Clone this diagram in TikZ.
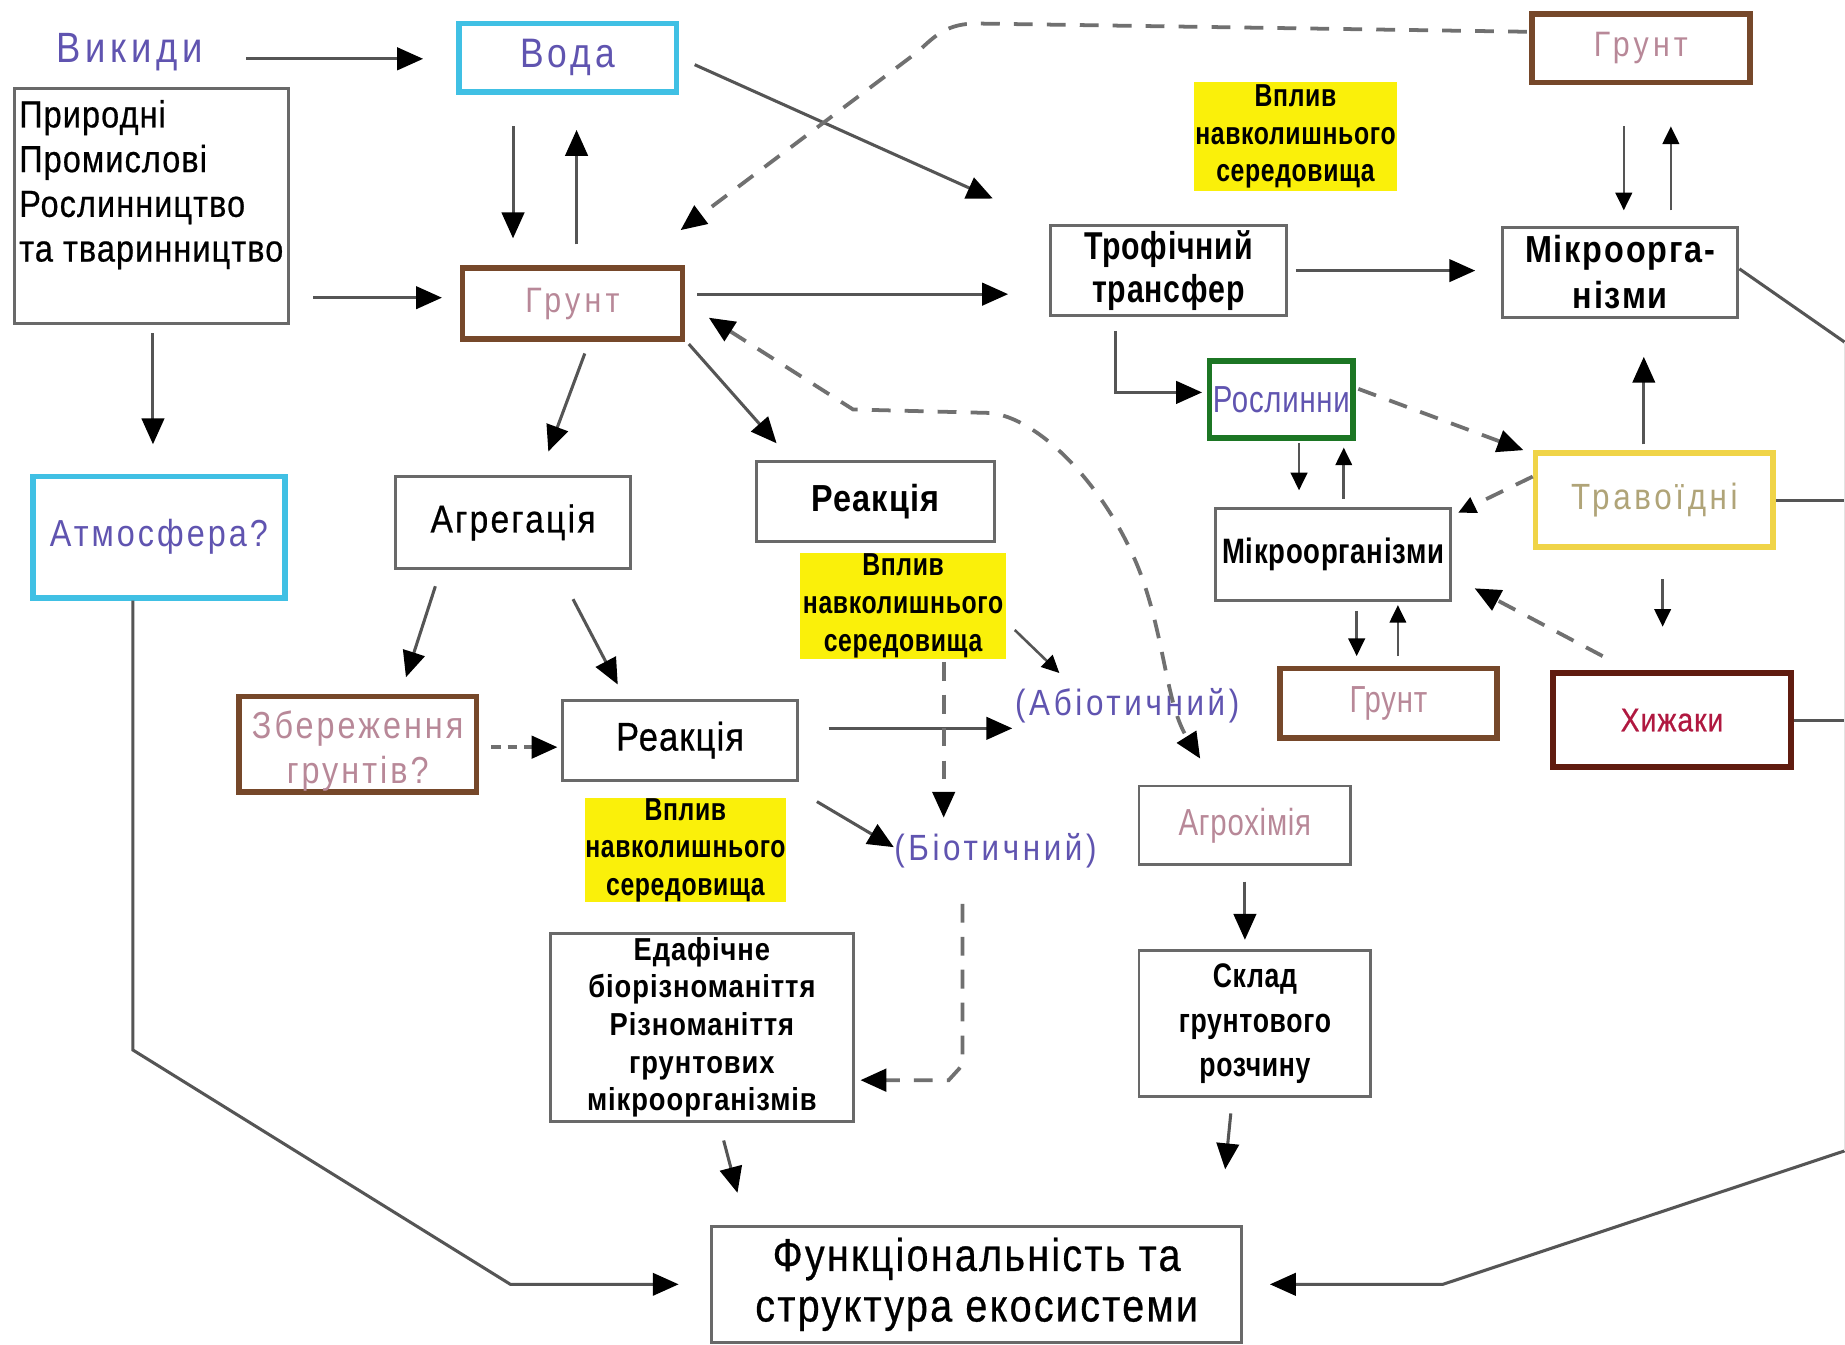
\documentclass[tikz,border=0pt]{standalone}
\usepackage{fontspec}
\setmainfont[FakeStretch=0.86,LetterSpace=3]{Liberation Sans}
\newfontfamily\condf[FakeStretch=0.78,LetterSpace=2]{Liberation Sans}
\usetikzlibrary{arrows.meta,calc}
\newcommand\setfz[3]{\fontsize{#1}{#2}\selectfont\addfontfeature{LetterSpace=#3}}
\newcommand\heavier{\addfontfeature{FakeBold=0.6}}
\definecolor{txtpurple}{RGB}{96,84,176}
\definecolor{txtmauve}{RGB}{184,136,152}
\definecolor{txtkhaki}{RGB}{176,164,120}
\definecolor{txtred}{RGB}{176,24,64}
\definecolor{bcyan}{RGB}{64,192,228}
\definecolor{bbrown}{RGB}{118,72,42}
\definecolor{bgreen}{RGB}{28,118,36}
\definecolor{byellow}{RGB}{240,212,72}
\definecolor{bdred}{RGB}{96,28,16}
\definecolor{hiyel}{RGB}{250,240,10}
\definecolor{boxgray}{RGB}{105,105,105}
\definecolor{lngray}{RGB}{85,85,85}
\definecolor{dshgray}{RGB}{112,112,112}
\tikzset{
 gbox/.style={draw=boxgray, line width=1.25pt, fill=white, inner sep=0pt, align=center},
 tbox/.style={line width=2.4pt, fill=white, inner sep=0pt, align=center},
 hl/.style={fill=hiyel, inner sep=0pt, align=center},
 lbl/.style={inner sep=0pt, align=center},
 arr/.style={draw=lngray, line width=1.3pt, -{Triangle[length=11pt,width=9.5pt,black]}},
 arrs/.style={draw=lngray, line width=1.1pt, -{Triangle[length=7.5pt,width=7pt,black]}},
 dblarr/.style={draw=lngray, line width=1.3pt, {Triangle[length=11pt,width=9.5pt,black]}-{Triangle[length=11pt,width=9.5pt,black]}},
 dsh/.style={draw=dshgray, line width=1.6pt, dash pattern=on 8pt off 6pt},
 plainln/.style={draw=lngray, line width=1.3pt},
}
\begin{document}
\begin{tikzpicture}[x=0.5pt,y=-0.5pt]
\fill[white] (0,0) rectangle (1568,1143);
\useasboundingbox (0,0) rectangle (1568,1143);

% ---------- nodes ----------
\node[lbl, text=txtpurple, font=\setfz{18}{20}{11}] (vyk) at (110,44) {Викиди};
\node[tbox, draw=bcyan, minimum width=92.5pt, minimum height=29pt, text=txtpurple, font=\setfz{17.5}{20}{10}] (voda) at (482.5,49) {Вода};
\node[gbox, minimum width=116.5pt, minimum height=100pt] (prir) at (128.5,175) {};
\node[lbl, anchor=west, align=left, font=\setfz{16}{19}{3}\heavier] (prirtxt) at (16,157) {Природні\\Промислові\\Рослинництво\\та тваринництво};
\node[tbox, draw=bbrown, minimum width=93.5pt, minimum height=30pt, text=txtmauve, font=\setfz{15}{18}{12}] (grunt) at (486.5,258) {Грунт};
\node[tbox, draw=bcyan, minimum width=107pt, minimum height=51.5pt, text=txtpurple, font=\setfz{16}{19}{8}] (atm) at (135,456.5) {Атмосфера?};
\node[gbox, minimum width=100pt, minimum height=39pt, font=\setfz{16.5}{19}{6}\heavier] (agr) at (436,444) {Агрегація};
\node[gbox, minimum width=101pt, minimum height=34pt, font=\bfseries\setfz{16}{19}{3}] (reak1) at (744,426) {Реакція};
\node[tbox, draw=bbrown, minimum width=92.5pt, minimum height=29pt, text=txtmauve, font=\setfz{15}{18}{12}] (gruntTR) at (1394.5,41) {Грунт};
\node[hl, minimum width=86pt, minimum height=46pt, font=\condf\bfseries\setfz{13.5}{16}{2}] (vpltop) at (1101,116) {Вплив\\навколишнього\\середовища};
\node[gbox, minimum width=100pt, minimum height=38pt, font=\condf\bfseries\setfz{16.5}{18.5}{2}] (trof) at (993,230) {Трофічний\\трансфер};
\node[gbox, minimum width=100pt, minimum height=38.5pt, font=\bfseries\setfz{16}{19.5}{5}] (mikTR) at (1377,231.5) {Мікроорга-\\нізми};
\node[tbox, draw=bgreen, minimum width=61pt, minimum height=32.5pt, text=txtpurple, font=\condf\setfz{16}{19}{2}] (rosl) at (1089,339.5) {Рослинни};
\node[gbox, minimum width=100pt, minimum height=39pt, font=\condf\bfseries\setfz{15}{18}{2}] (mikM) at (1133,471) {Мікроорганізми};
\node[tbox, draw=byellow, minimum width=101pt, minimum height=40pt, text=txtkhaki, font=\setfz{15.5}{18}{10}] (trav) at (1406,425) {Травоїдні};
\node[tbox, draw=bdred, minimum width=101pt, minimum height=40pt, text=txtred, font=\setfz{14}{17}{3}\heavier] (khyz) at (1421,612) {Хижаки};
\node[tbox, draw=bbrown, minimum width=92pt, minimum height=29.5pt, text=txtmauve, font=\condf\setfz{16}{19}{2}] (gruntL) at (1180,597.5) {Грунт};
\node[tbox, draw=bbrown, minimum width=101pt, minimum height=40.5pt, text=txtmauve, font=\setfz{16}{19}{8}] (zber) at (304,632.5) {\rule{0pt}{17.5pt}Збереження\\грунтів?};
\node[gbox, minimum width=100pt, minimum height=34pt, font=\setfz{17}{20}{3}\heavier] (reak2) at (578,629) {Реакція};
\node[hl, minimum width=87.5pt, minimum height=45pt, font=\condf\bfseries\setfz{13.5}{16}{2}] (vplM) at (767.5,515) {Вплив\\навколишнього\\середовища};
\node[hl, minimum width=85.5pt, minimum height=44.5pt, font=\condf\bfseries\setfz{13.5}{16}{2}] (vplL) at (582.5,722.5) {Вплив\\навколишнього\\середовища};
\node[lbl, text=txtpurple, font=\setfz{15.5}{18}{10}] (abio) at (958,600) {(Абіотичний)};
\node[lbl, text=txtpurple, font=\setfz{15.5}{18}{10}] (bio) at (846,723) {(Біотичний)};
\node[gbox, minimum width=128.5pt, minimum height=80pt, font=\bfseries\setfz{13.5}{16}{3}] (edaf) at (596.5,873) {Едафічне\\біорізноманіття\\Різноманіття\\грунтових\\мікроорганізмів};
\node[gbox, minimum width=90pt, minimum height=33.5pt, text=txtmauve, font=\condf\setfz{16}{19}{2}] (agroch) at (1058,701.5) {Агрохімія};
\node[gbox, minimum width=98.5pt, minimum height=62pt, font=\condf\bfseries\setfz{14.5}{19}{2}] (sklad) at (1066.5,870) {Склад\\грунтового\\розчину};
\node[gbox, minimum width=225pt, minimum height=49.5pt, font=\setfz{19.5}{21.5}{5}\heavier] (func) at (830,1091.5) {Функціональність та\\структура екосистеми};

\coordinate (re1) at (1568,291);
\coordinate (re2) at (1568,425);
\coordinate (re3) at (1568,612);
\coordinate (rb) at (1568,978);

% ---------- connectors ----------
\draw[arr] ($(vyk.east)+(37,6)$) -- ($(voda.west)+(-28,1)$);
\draw[arr] ($(prir.east)+(20,78)$) -- ($(grunt.west)+(-15,-5)$);
\draw[arr] ($(voda.south)+(-46.5,27)$) -- ($(grunt.north)+(-50.5,-23)$);
\draw[arr] ($(grunt.north)+(3.5,-18)$) -- ($(voda.south)+(7.5,30)$);
\draw[arr] ($(prir.south)+(1.5,7)$) -- ($(atm.north)+(-5,-25)$);
\draw[arr] ($(atm.south)+(-22,0)$) -- ($(atm.south)+(-22,382)$) -- ($(func.west)+(-170,0)$) -- ($(func.west)+(-27,0)$);
\draw[arr] (rb) -- ($(func.east)+(170,0)$) -- ($(func.east)+(23,0)$);
\draw[arr] ($(grunt.south)+(10.5,10)$) -- ($(agr.north)+(30,-20)$);
\draw[arr] ($(grunt.south east)+(3,2)$) -- ($(reak1.north)+(-84,-14)$);
\draw[arr] ($(grunt.east)+(10,-8)$) -- ($(trof.west)+(-35,20)$);
\draw[arr] ($(voda.east)+(13,6)$) -- ($(trof.north west)+(-48,-22)$);
\draw[arr,dsh] ($(gruntTR.west)+(-2,-14)$) -- (830,20) .. controls (805,20) and (795,30) .. (780,44) -- ($(grunt.north east)+(-4,-30)$);
\draw[dblarr,dsh] ($(grunt.east)+(20,12)$) -- (725,348) -- (843,351) .. controls (890,358) and (948,425) .. (972,495) .. controls (990,548) and (992,600) .. ($(agroch.north)+(-38,-22)$);
\draw[arr] ($(trof.south)+(-45,12)$) |- ($(rosl.west)+(-4,-6)$);
\draw[plainln] ($(mikTR.east)+(0,-3)$) -- (re1);
\draw[arr] ($(trof.east)+(7,0)$) -- ($(mikTR.west)+(-22,-1.5)$);
\draw[arrs] ($(gruntTR.south)+(-14.5,35)$) -- ($(mikTR.north)+(3,-13)$);
\draw[arrs] ($(mikTR.north)+(43,-13)$) -- ($(gruntTR.south)+(25.5,35)$);
\draw[arr] ($(trav.north)+(-9,-5)$) -- ($(mikTR.south)+(20,32)$);
\draw[arr,dsh] ($(rosl.east)+(2,-9)$) -- ($(trav.north west)+(-8,0)$);
\draw[arrs] ($(rosl.south)+(15,2)$) -- ($(mikM.north)+(-29,-14)$);
\draw[arrs] ($(mikM.north)+(9,-7)$) -- ($(rosl.south)+(53,6)$);
\draw[arrs,dsh] ($(trav.west)+(0,-20)$) -- ($(mikM.north east)+(5,5)$);
\draw[plainln] (trav.east) -- (re2);
\draw[arrs] ($(trav.south)+(7,25)$) -- ($(khyz.north)+(-8,-37)$);
\draw[arr,dsh] ($(khyz.north)+(-59,-12)$) -- ($(mikM.east)+(19,29)$);
\draw[plainln] (khyz.east) -- (re3);
\draw[arrs] ($(mikM.south)+(20,8)$) -- ($(gruntL.north)+(-27,-8)$);
\draw[arrs] ($(gruntL.north)+(8,-8)$) -- ($(mikM.south)+(55,3)$);
\draw[arr] ($(agr.south)+(-66,14)$) -- ($(zber.north)+(41,-14)$);
\draw[arr] ($(agr.south)+(51,25)$) -- ($(reak2.north)+(-53,-12)$);
\draw[arr,dsh,dash pattern=on 4pt off 3pt] ($(zber.east)+(10,2.5)$) -- ($(reak2.west)+(-3,6)$);
\draw[arr] ($(reak2.east)+(25,-10)$) -- ($(abio.west)+(-2,19)$);
\draw[arr] ($(reak2.south east)+(15,17)$) -- ($(bio.west)+(0,-3)$);
\draw[arrs] ($(vplM.south east)+(7,-25)$) -- ($(abio.west)+(38,-28)$);
\draw[arr,dsh] ($(vplM.south)+(34.5,2)$) -- ($(bio.north)+(-44,-13)$);
\draw[arr,dsh] ($(bio.south)+(-28,30)$) -- ($(bio.south)+(-28,167)$) -- ($(edaf.east)+(80,45)$) -- ($(edaf.east)+(5,45)$);
\draw[arr] ($(edaf.south)+(18.5,15)$) -- ($(func.north west)+(23,-27)$);
\draw[arr] ($(agroch.south)+(0,13)$) -- ($(sklad.north)+(-8.5,-8)$);
\draw[arr] ($(sklad.south)+(-20.5,13)$) -- ($(func.north east)+(-15,-47)$);
\draw[gray!22, line width=0.8pt] (re1) -- (rb);
\end{tikzpicture}
\end{document}
